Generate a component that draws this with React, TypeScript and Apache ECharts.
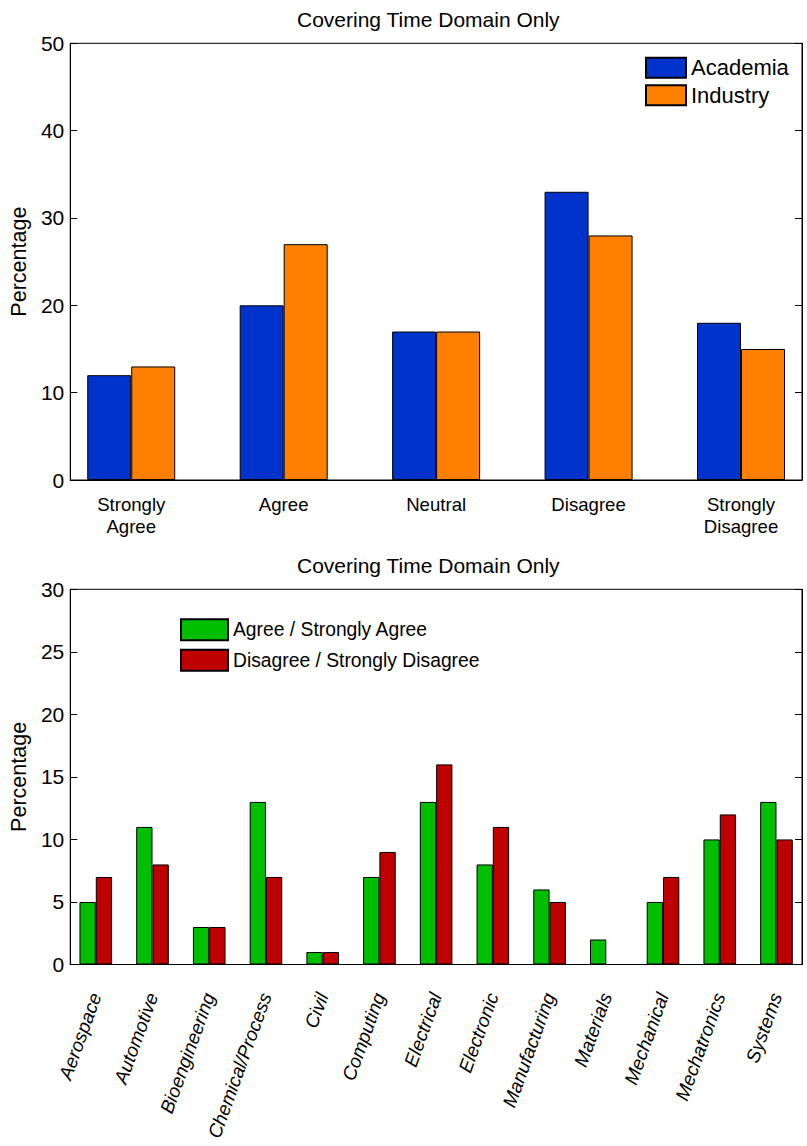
import React, { useEffect, useRef } from "react";
import * as echarts from "echarts";

const topCategories = ["Strongly\nAgree", "Agree", "Neutral", "Disagree", "Strongly\nDisagree"];
const academia = [12, 20, 17, 33, 18];
const industry = [13, 27, 17, 28, 15];
const topTicks = [0, 10, 20, 30, 40, 50];

const disciplines = [
  "Aerospace", "Automotive", "Bioengineering", "Chemical/Process", "Civil", "Computing",
  "Electrical", "Electronic", "Manufacturing", "Materials", "Mechanical", "Mechatronics", "Systems",
];
const agreeVals = [5, 11, 3, 13, 1, 7, 13, 8, 6, 2, 5, 10, 13];
const disagreeVals = [7, 8, 3, 7, 1, 9, 16, 11, 5, 0, 7, 12, 10];
const bottomTicks = [0, 5, 10, 15, 20, 25, 30];

const FONT = "'Liberation Sans', Arial, Helvetica, sans-serif";

export default function App() {
  const ref = useRef<HTMLDivElement>(null);
  useEffect(() => {
    if (!ref.current) return;
    const chart = echarts.init(ref.current, null, { renderer: "svg" });
    const topIdx = topCategories.map((_, i) => i + 1);
    const botIdx = disciplines.map((_, i) => i + 1);
    const valueY = (gridIndex: number, min: number, max: number, interval: number, right: boolean) => ({
      type: "value",
      gridIndex,
      position: right ? "right" : "left",
      min,
      max,
      interval,
      name: right ? "" : "Percentage",
      nameLocation: "middle",
      nameGap: 40,
      nameTextStyle: { fontSize: 21.5, color: "#000", fontFamily: FONT },
      axisLine: { show: true, lineStyle: { color: "#000", width: 1 } },
      axisTick: { show: true, inside: true, length: 7, lineStyle: { color: "#000" } },
      axisLabel: { show: !right, fontSize: 21, color: "#000", fontFamily: FONT, margin: 6 },
      splitLine: { show: false },
    });
    const baseBar = {
      type: "bar",
      barGap: "0%",
      itemStyle: { borderColor: "#000", borderWidth: 1 },
    };
    chart.setOption({
      animation: false,
      title: [
        {
          text: "Covering Time Domain Only",
          left: 297,
          top: 7,
          padding: 0,
          textStyle: { fontSize: 21, fontWeight: "normal", color: "#000", fontFamily: FONT, lineHeight: 24 },
        },
        {
          text: "Covering Time Domain Only",
          left: 297,
          top: 553,
          padding: 0,
          textStyle: { fontSize: 21, fontWeight: "normal", color: "#000", fontFamily: FONT, lineHeight: 24 },
        },
      ],
      legend: [
        {
          data: ["Academia", "Industry"],
          orient: "vertical",
          left: 645,
          top: 56.7,
          padding: 0,
          itemWidth: 40,
          itemHeight: 20,
          itemGap: 5.6,
          icon: "rect",
          selectedMode: false,
          textStyle: { fontSize: 22, color: "#000", fontFamily: FONT, lineHeight: 20 },
        },
        {
          data: ["Agree / Strongly Agree", "Disagree / Strongly Disagree"],
          orient: "vertical",
          left: 180,
          top: 618.3,
          padding: 0,
          itemWidth: 47,
          itemHeight: 21,
          itemGap: 7.4,
          icon: "rect",
          selectedMode: false,
          textStyle: { fontSize: 19.3, color: "#000", fontFamily: FONT, lineHeight: 21 },
        },
      ],
      grid: [
        { left: 68.5, right: 5, top: 43.3, height: 436.7, show: true, borderColor: "#000", borderWidth: 1 },
        { left: 68.5, right: 5, top: 589.3, height: 375.2, show: true, borderColor: "#000", borderWidth: 1 },
      ],
      xAxis: [
        {
          type: "value",
          gridIndex: 0,
          min: 0.6,
          max: 5.4,
          axisLine: { show: true, lineStyle: { color: "#000" } },
          axisTick: { show: false },
          splitLine: { show: false },
          axisLabel: {
            customValues: topIdx,
            formatter: (v: number) => topCategories[Math.round(v) - 1] ?? "",
            fontSize: 18.6,
            lineHeight: 22,
            color: "#000",
            fontFamily: FONT,
            margin: 13,
          },
        },
        {
          type: "value",
          gridIndex: 1,
          min: 0.55,
          max: 13.45,
          axisLine: { show: true, lineStyle: { color: "#000" } },
          axisTick: { show: false },
          splitLine: { show: false },
          axisLabel: {
            customValues: botIdx,
            formatter: (v: number) => disciplines[Math.round(v) - 1] ?? "",
            rotate: 70,
            fontSize: 19,
            fontStyle: "italic",
            color: "#000",
            fontFamily: FONT,
            margin: 29,
          },
        },
      ],
      yAxis: [
        valueY(0, topTicks[0], topTicks[topTicks.length - 1], 10, false),
        valueY(0, topTicks[0], topTicks[topTicks.length - 1], 10, true),
        valueY(1, bottomTicks[0], bottomTicks[bottomTicks.length - 1], 5, false),
        valueY(1, bottomTicks[0], bottomTicks[bottomTicks.length - 1], 5, true),
      ],
      series: [
        {
          ...baseBar,
          name: "Academia",
          xAxisIndex: 0,
          yAxisIndex: 0,
          barWidth: 44,
          itemStyle: { ...baseBar.itemStyle, color: "#0033CC" },
          data: academia.map((v, i) => [i + 1, v]),
        },
        {
          ...baseBar,
          name: "Industry",
          xAxisIndex: 0,
          yAxisIndex: 0,
          barWidth: 44,
          itemStyle: { ...baseBar.itemStyle, color: "#FF8000" },
          data: industry.map((v, i) => [i + 1, v]),
        },
        {
          ...baseBar,
          name: "Agree / Strongly Agree",
          xAxisIndex: 1,
          yAxisIndex: 2,
          barWidth: 16.3,
          itemStyle: { ...baseBar.itemStyle, color: "#00BF00" },
          data: agreeVals.map((v, i) => [i + 1, v]),
        },
        {
          ...baseBar,
          name: "Disagree / Strongly Disagree",
          xAxisIndex: 1,
          yAxisIndex: 2,
          barWidth: 16.3,
          itemStyle: { ...baseBar.itemStyle, color: "#BF0000" },
          data: disagreeVals.map((v, i) => [i + 1, v]),
        },
      ],
    });
    return () => chart.dispose();
  }, []);
  return (
    <div
      ref={ref}
      style={{ position: "absolute", left: 0, top: 0, width: 807, height: 1146, background: "#fff" }}
    />
  );
}
